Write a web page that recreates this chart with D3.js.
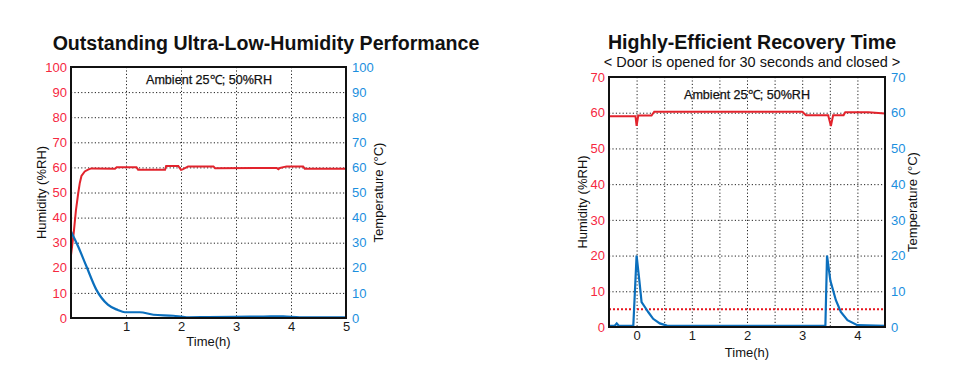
<!DOCTYPE html>
<html>
<head>
<meta charset="utf-8">
<script src="https://cdn.jsdelivr.net/npm/d3@7"></script>
<style>
  body { margin: 0; background: #fff; }
  svg { display: block; font-family: "Liberation Sans", Arial, sans-serif; }
</style>
</head>
<body>
<div id="chart-area"></div>
<script>
// ---- data ----
// left chart: startup
const upTempT = [0, 0.05, 0.09, 0.13, 0.16, 0.19, 0.25, 0.31, 0.37, 0.8, 0.83, 1.19, 1.22, 1.71, 1.73, 1.95, 2.0, 2.03, 2.13, 2.59, 2.62, 3.74, 3.77, 3.8, 3.92, 4.22, 4.25, 5.0]
const upTempV = [25, 34, 43, 49.5, 53.8, 56.6, 58.4, 59.1, 59.6, 59.5, 60.1, 60.1, 59.1, 59.1, 60.6, 60.6, 59.0, 59.2, 60.4, 60.4, 59.7, 59.8, 59.3, 59.8, 60.4, 60.4, 59.5, 59.5]
const upHumT = [0, 0.13, 0.28, 0.46, 0.67, 0.85, 0.98, 1.25, 1.5, 1.86, 2.1, 2.5, 2.95, 3.5, 3.86, 4.16, 4.6, 5.0]
const upHumV = [34.5, 28.5, 20.6, 11.3, 5.3, 3.2, 2.3, 2.3, 1.3, 0.9, 0.3, 0.4, 0.5, 0.6, 0.7, 0.3, 0.3, 0.3]
const upXTicks = [1, 2, 3, 4, 5]
const upYTicks = [0, 10, 20, 30, 40, 50, 60, 70, 80, 90, 100]

// right chart: door opened 30 s
const recTempT = [-0.5, -0.02, 0.0, 0.03, 0.27, 0.32, 3.0, 3.07, 3.47, 3.52, 3.56, 3.75, 3.78, 4.2, 4.5]
const recTempV = [59, 59, 56.3, 59.2, 59.2, 60.3, 60.3, 59.3, 59.3, 56.3, 59.3, 59.3, 60.1, 60.1, 59.8]
const recHumT = [-0.5, -0.4, -0.36, -0.32, -0.06, 0.0, 0.05, 0.09, 0.15, 0.21, 0.30, 0.42, 0.55, 3.42, 3.45, 3.51, 3.61, 3.70, 3.82, 4.0, 4.5]
const recHumV = [0.3, 0.3, 1.0, 0.3, 0.3, 20, 13, 7, 5.6, 4.2, 2.3, 1.0, 0.4, 0.3, 20, 13, 7.5, 4.2, 1.9, 0.5, 0.3]
const recXTicks = [0, 1, 2, 3, 4]
const recXGrid = [0, 0.5, 1, 1.5, 2, 2.5, 3, 3.5, 4]
const recYTicks = [0, 10, 20, 30, 40, 50, 60, 70]
const recLimit = 5

const RED = "#e2232c", BLUE = "#0b6fbd"
const RED_TXT = "#f6283f", BLUE_TXT = "#1b8fde"

let svg = d3.select("#chart-area").append("svg")
	.attr("width", 961).attr("height", 376)

function zip(t, v) { return t.map((d, i) => ({t: d, v: v[i]})) }

function drawChart(o) {
	let w = o.x1 - o.x0, h = o.y1 - o.y0
	let g = svg.append("g").attr("transform", "translate(" + o.x0 + "," + o.y0 + ")")

	let x = d3.scaleLinear().domain(o.xDomain).range([0, w])
	let yL = d3.scaleLinear().domain(o.yDomain).range([h, 0])
	let yR = d3.scaleLinear().domain(o.yDomain).range([h, 0])

	// grid
	g.append("g").attr("class", "grid")
		.call(d3.axisBottom(x).tickValues(o.xGrid).tickSize(h).tickFormat(""))
		.call(s => s.select(".domain").remove())
	g.append("g").attr("class", "grid")
		.call(d3.axisLeft(yL).tickValues(o.yTicks.slice(1, -1)).tickSize(-w).tickFormat(""))
		.call(s => s.select(".domain").remove())
	g.selectAll(".grid line")
		.attr("stroke", "#222").attr("stroke-width", 1).attr("stroke-dasharray", "1.2,2.2")

	// y axes
	g.append("g").call(d3.axisLeft(yL).tickValues(o.yTicks).tickSize(0).tickPadding(4))
		.call(s => s.select(".domain").remove())
		.selectAll("text").attr("fill", RED_TXT).attr("font-size", 13).attr("font-family", "Liberation Sans, Arial, sans-serif")
	g.append("g").attr("transform", "translate(" + w + ",0)")
		.call(d3.axisRight(yR).tickValues(o.yTicks).tickSize(0).tickPadding(6))
		.call(s => s.select(".domain").remove())
		.selectAll("text").attr("fill", BLUE_TXT).attr("font-size", 13).attr("font-family", "Liberation Sans, Arial, sans-serif")

	// x axis
	g.append("g").attr("transform", "translate(0," + h + ")")
		.call(d3.axisBottom(x).tickValues(o.xTicks).tickSize(0).tickPadding(4).tickFormat(d3.format("d")))
		.call(s => s.select(".domain").remove())
		.selectAll("text").attr("fill", "#1a1a1a").attr("font-size", 13).attr("font-family", "Liberation Sans, Arial, sans-serif")

	if (o.limit != null) {
		g.append("line")
			.attr("x1", 0).attr("x2", w)
			.attr("y1", yL(o.limit)).attr("y2", yL(o.limit))
			.attr("stroke", "#e8141e").attr("stroke-width", 2).attr("stroke-dasharray", "2,2")
	}

	let clip = "clip" + o.id
	g.append("clipPath").attr("id", clip).append("rect").attr("width", w).attr("height", h)

	let lineT = d3.line().x(d => x(d.t)).y(d => yR(d.v))
	let lineH = d3.line().x(d => x(d.t)).y(d => yL(d.v)).curve(o.humCurve)

	g.append("path").attr("clip-path", "url(#" + clip + ")")
		.attr("d", lineT(zip(o.tempT, o.tempV)))
		.attr("fill", "none").attr("stroke", RED).attr("stroke-width", 2)
	g.append("path").attr("clip-path", "url(#" + clip + ")")
		.attr("d", lineH(zip(o.humT, o.humV)))
		.attr("fill", "none").attr("stroke", BLUE).attr("stroke-width", 2.2)

	// frame
	g.append("rect").attr("width", w).attr("height", h)
		.attr("fill", "none").attr("stroke", "#111").attr("stroke-width", 2)

	// labels
	g.append("text").text("Ambient 25℃; 50%RH")
		.attr("x", o.ambX - o.x0).attr("y", o.ambY - o.y0)
		.attr("text-anchor", "middle").attr("font-size", 12.5).attr("fill", "#111")
		.attr("stroke", "#111").attr("stroke-width", 0.25)
		.attr("textLength", 126).attr("lengthAdjust", "spacingAndGlyphs")

	g.append("text").text("Humidity (%RH)")
		.attr("transform", "rotate(-90)")
		.attr("x", -h / 2).attr("y", o.hLabX - o.x0)
		.attr("text-anchor", "middle").attr("font-size", 13).attr("fill", "#111")
	g.append("text").text("Temperature (°C)")
		.attr("transform", "rotate(-90)")
		.attr("x", -h / 2).attr("y", o.tLabX - o.x0)
		.attr("text-anchor", "middle").attr("font-size", 13).attr("fill", "#111")
	g.append("text").text("Time(h)")
		.attr("x", w / 2).attr("y", o.timeY - o.y0)
		.attr("text-anchor", "middle").attr("font-size", 13).attr("fill", "#111")

	svg.append("text").text(o.title)
		.attr("x", o.titleX).attr("y", o.titleY)
		.attr("text-anchor", "middle").attr("font-size", 19.6).attr("font-weight", "bold").attr("fill", "#111")
	if (o.subtitle) {
		svg.append("text").text(o.subtitle)
			.attr("x", o.titleX).attr("y", o.subY)
			.attr("text-anchor", "middle").attr("font-size", 14.5).attr("fill", "#111")
	}
}

drawChart({
	id: "a", x0: 71, x1: 346, y0: 67, y1: 318,
	xDomain: [0, 5], yDomain: [0, 100],
	xTicks: upXTicks, xGrid: [1, 2, 3, 4], yTicks: upYTicks,
	tempT: upTempT, tempV: upTempV, humT: upHumT, humV: upHumV,
	humCurve: d3.curveMonotoneX,
	ambX: 209, ambY: 84, hLabX: 46, tLabX: 383, timeY: 346,
	title: "Outstanding Ultra-Low-Humidity Performance", titleX: 266, titleY: 50
})

drawChart({
	id: "b", x0: 609, x1: 885, y0: 77, y1: 327,
	xDomain: [-0.5, 4.5], yDomain: [0, 70],
	xTicks: recXTicks, xGrid: recXGrid, yTicks: recYTicks,
	tempT: recTempT, tempV: recTempV, humT: recHumT, humV: recHumV,
	humCurve: d3.curveLinear, limit: recLimit,
	ambX: 747, ambY: 99, hLabX: 587, tLabX: 917, timeY: 357,
	title: "Highly-Efficient Recovery Time", titleX: 752, titleY: 49,
	subtitle: "< Door is opened for 30 seconds and closed >", subY: 67
})
</script>
</body>
</html>
